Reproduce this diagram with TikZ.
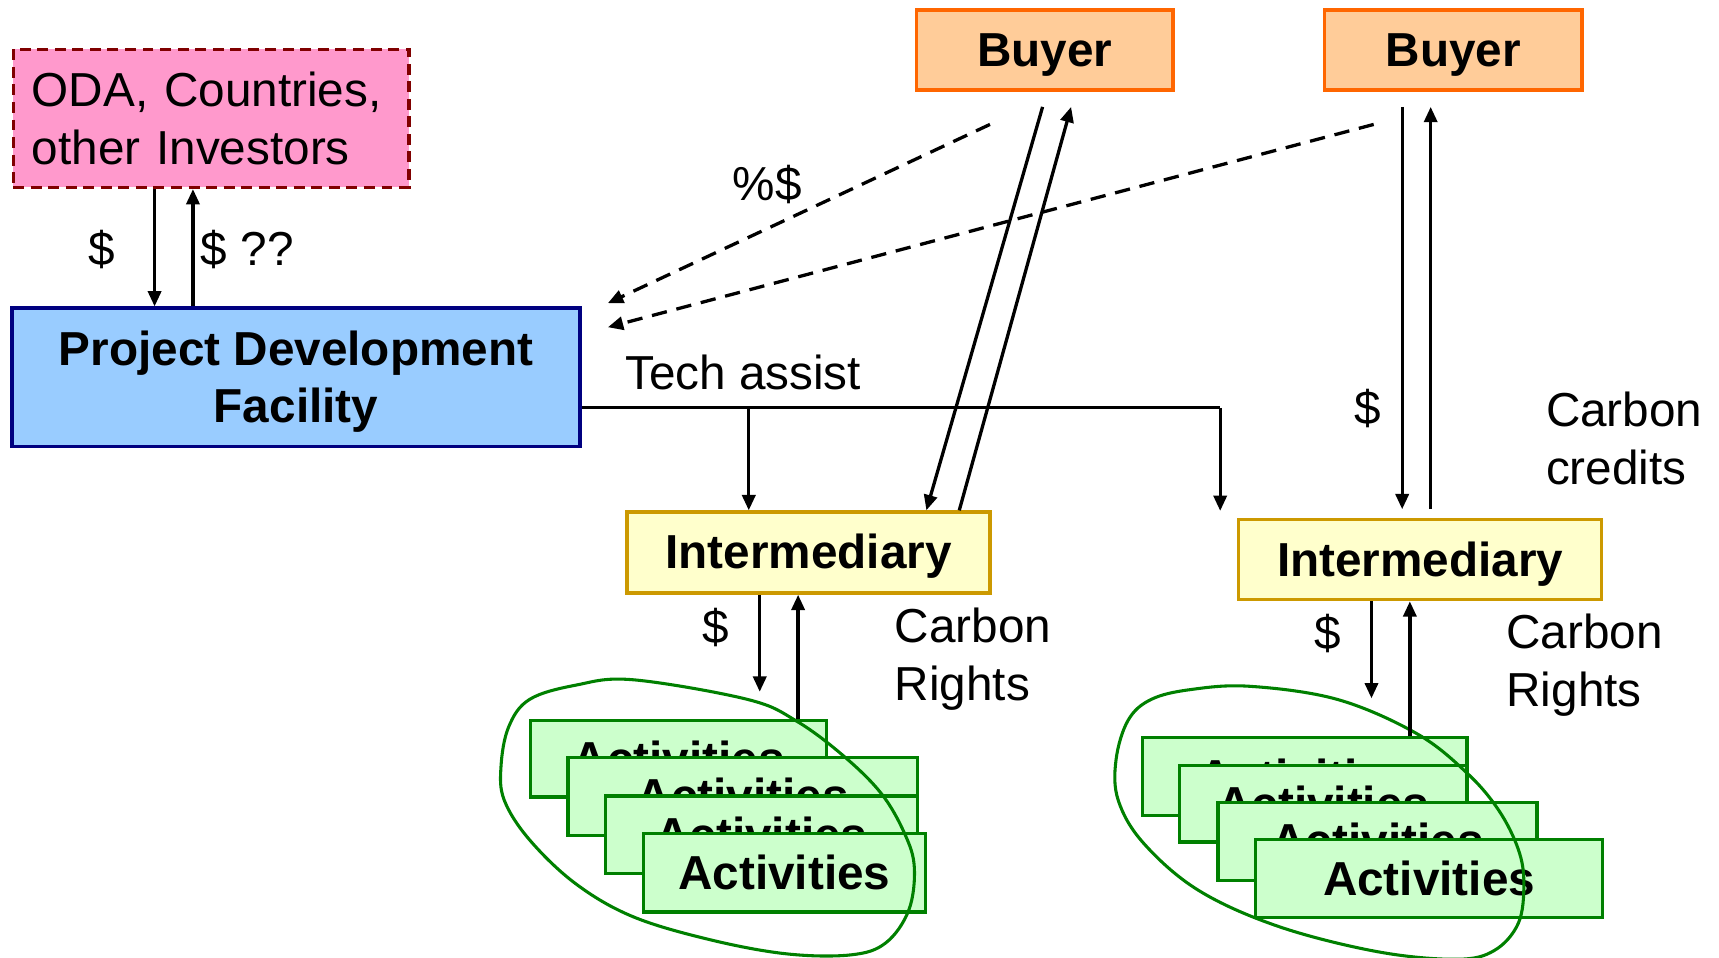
\documentclass[tikz,border=0pt]{standalone}
\usepackage{fontspec}
\setmainfont{Liberation Sans}
\usetikzlibrary{arrows.meta}
\definecolor{odafill}{HTML}{FF99CC}
\definecolor{odaline}{HTML}{800000}
\definecolor{pdffill}{HTML}{99CCFF}
\definecolor{pdfline}{HTML}{000080}
\definecolor{buyfill}{HTML}{FFCC99}
\definecolor{buyline}{HTML}{FF6600}
\definecolor{intfill}{HTML}{FFFFCC}
\definecolor{intline}{HTML}{CC9900}
\definecolor{actfill}{HTML}{CCFFCC}
\definecolor{actline}{HTML}{008000}
\begin{document}
\begin{tikzpicture}[x=1pt,y=-1pt,
  bigtext/.style={font=\fontsize{43.5}{53}\selectfont},
  boldtext/.style={font=\bfseries\fontsize{43.5}{52}\selectfont},
  boxbase/.style={rectangle, line width=3pt, inner sep=0pt},
  onebox/.style={boxbase, boldtext, text height=30pt, text depth=0pt},
  buyerbox/.style={onebox, draw=buyline, fill=buyfill, minimum width=234pt, minimum height=73pt},
  interbox/.style={onebox, draw=intline, fill=intfill, minimum width=331pt, minimum height=74pt},
  actbox/.style={onebox, draw=actline, fill=actfill, minimum height=71pt},
  lbl/.style={bigtext, inner sep=0pt},
  arr/.style={line width=3pt, -{Triangle[length=14pt,width=12pt]}},
  dasharr/.style={arr, dash pattern=on 14pt off 9pt},
  ellip/.style={draw=actline, line width=2.8pt}
]
\useasboundingbox (0,0) rectangle (1568,873);

% main boxes
\node[boxbase, draw=odaline, fill=odafill, dash pattern=on 10pt off 6pt, bigtext, align=left,
      text width=327pt, minimum width=361pt, minimum height=126pt] (oda) at (192.5,108) {ODA, Countries,\\other Investors};
\node[boxbase, draw=pdfline, fill=pdffill, boldtext, align=center,
      minimum width=518pt, minimum height=126pt] (pdf) at (270,344) {\rule{0pt}{39pt}Project Development\\Facility};
\node[buyerbox] (b1) at (953,45.5) {Buyer};
\node[buyerbox, minimum width=235pt] (b2) at (1325.5,45.5) {Buyer};
\node[interbox] (i1) at (737.5,504) {Intermediary};
\node[interbox, minimum height=73pt] (i2) at (1295.5,510.5) {Intermediary};

% activities, left group
\node[actbox, minimum width=270pt, minimum height=70pt] (a1) at (619,692) {Activities};
\node[actbox, minimum width=319pt] (a2) at (677.5,726.5) {Activities};
\node[actbox, minimum width=285pt] (a3) at (694.5,761.5) {Activities};
\node[actbox, minimum width=257pt, minimum height=72pt] (a4) at (715.5,796) {Activities};

% activities, right group
\node[actbox, minimum width=296pt] (c1) at (1190,708.5) {Activities};
\node[actbox, minimum width=262pt, minimum height=70pt] (c2) at (1207,733) {Activities};
\node[actbox, minimum width=291pt] (c3) at (1256.5,767.5) {Activities};
\node[actbox, minimum width=317pt] (c4) at (1303.5,801.5) {Activities};

% grouping outlines
\draw[ellip] plot[smooth cycle, tension=0.6] coordinates {
  (525,625) (577,620) (682,638) (727,658) (770,690) (804,724) (825,760) (834,791)
  (829,830) (808,860) (776,871) (717,870) (647,857) (577,836) (525,806) (483,766)
  (460,730) (457,699) (464,663) (483,638)};
\draw[ellip] plot[smooth cycle, tension=0.6] coordinates {
  (1086,629) (1140,626) (1220,638) (1292,669) (1338,705) (1367,739) (1385,775) (1390,806)
  (1385,842) (1363,867) (1328,875) (1256,868) (1166,845) (1093,812) (1043,769) (1020,730)
  (1018,693) (1029,657) (1050,638)};

% ODA <-> PDF
\draw[arr] ([xshift=-51.5pt]oda.south) -- ([xshift=-129pt]pdf.north);
\draw[arr] ([xshift=-94pt]pdf.north) -- ([xshift=-16.5pt]oda.south);
\node[lbl] (l1) at (93,228) {\$};
\node[lbl, anchor=west] (l2) at (183,228) {\$ ??};

% dashed buyer -> PDF
\draw[dasharr] ([xshift=-50pt,yshift=-30pt]b1.south) -- ([xshift=24pt,yshift=3pt]pdf.north east);
\draw[dasharr] ([xshift=-72.5pt,yshift=-30pt]b2.south) -- ([xshift=24pt,yshift=-19pt]pdf.north east);
\node[lbl] (l3) at (700,168) {\%\$};

% tech assist
\coordinate (tcorner) at (1113,372);
\coordinate (tend) at (1113,466);
\draw[line width=3pt] ([yshift=-28pt]pdf.east) -- (tcorner);
\draw[arr] (tcorner) -- (tend);
\draw[arr] ([xshift=-54.5pt]i1.north |- tcorner) -- ([xshift=-54.5pt]i1.north);
\node[lbl, anchor=west] (l4) at (570,340) {Tech assist};

% buyer 1 <-> intermediary 1
\draw[arr] ([xshift=-2pt,yshift=-14pt]b1.south) -- ([xshift=107.5pt]i1.north);
\draw[arr] ([xshift=137.5pt]i1.north) -- ([xshift=24pt,yshift=-14pt]b1.south);

% buyer 2 <-> intermediary 2
\draw[arr] ([xshift=-46.5pt,yshift=-14pt]b2.south) -- ([xshift=-16.5pt,yshift=8pt]i2.north);
\draw[arr] ([xshift=9.5pt,yshift=8pt]i2.north) -- ([xshift=-20.5pt,yshift=-14pt]b2.south);
\node[lbl] (l5) at (1248,373) {\$};
\node[lbl, anchor=west, align=left] (l6) at (1410,400) {Carbon\\credits};

% intermediary 1 <-> activities
\coordinate (d1) at (693,631);
\draw[arr] ([xshift=-44.5pt]i1.south) -- (d1);
\draw[arr] ([xshift=109pt]a1.north) -- ([xshift=-9.5pt]i1.south);
\node[lbl] (l7) at (653,572) {\$};
\node[lbl, anchor=west, align=left] (l8) at (816,601) {Carbon\\Rights};

% intermediary 2 <-> activities
\coordinate (d2) at (1251,637);
\draw[arr] ([xshift=-44.5pt]i2.south) -- (d2);
\draw[arr] ([xshift=96pt]c1.north) -- ([xshift=-9.5pt]i2.south);
\node[lbl] (l9) at (1211,578) {\$};
\node[lbl, anchor=west, align=left] (l10) at (1374,607) {Carbon\\Rights};
\end{tikzpicture}
\end{document}
